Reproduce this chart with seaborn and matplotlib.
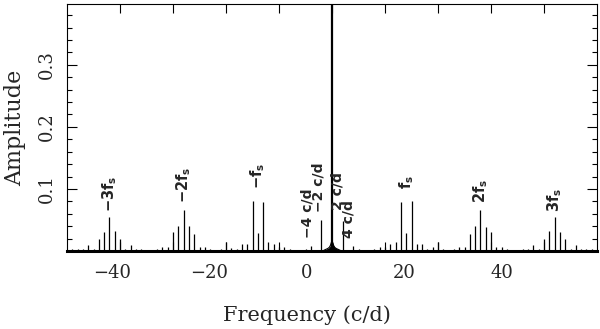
import numpy as np
import pandas as pd
import matplotlib
matplotlib.use("Agg")
import matplotlib.pyplot as plt
import seaborn as sns

# Spectral window: stick amplitudes at integer frequencies (c/d)
freq = list(range(-49, 50))
amp = [
    # -49 .. -40
    0.004, 0.004, 0.004, 0.0097, 0.003, 0.020, 0.030, 0.054, 0.033, 0.020,
    # -39 .. -30
    0.003, 0.0097, 0.004, 0.003, 0.002, 0.002, 0.003, 0.007, 0.006, 0.031,
    # -29 .. -20
    0.040, 0.066, 0.040, 0.027, 0.007, 0.006, 0.004, 0.002, 0.003, 0.015,
    # -19 .. -10
    0.005, 0.004, 0.011, 0.012, 0.081, 0.0285, 0.079, 0.0145, 0.011, 0.006,
    # -9 .. -1
    0.006, 0.004, 0.002, 0.002, 0.003, 0.008, 0.002, 0.050, 0.003,
    # 0 (main peak, clipped at the top)
    1.0,
    # 1 .. 9
    0.003, 0.049, 0.002, 0.008, 0.003, 0.002, 0.002, 0.004, 0.006,
    # 10 .. 19
    0.007, 0.011, 0.014, 0.0785, 0.0285, 0.081, 0.012, 0.011, 0.004, 0.006,
    # 20 .. 29
    0.0145, 0.003, 0.002, 0.004, 0.006, 0.007, 0.027, 0.040, 0.066, 0.039,
    # 30 .. 39
    0.031, 0.006, 0.007, 0.003, 0.002, 0.002, 0.003, 0.004, 0.0097, 0.003,
    # 40 .. 49
    0.020, 0.033, 0.054, 0.030, 0.020, 0.003, 0.0097, 0.004, 0.004, 0.004,
]

# broad base around the central peak
hump_freq = [-1.8, -1.2, -0.8, -0.5, -0.3, -0.15, 0.0, 0.15, 0.3, 0.5, 0.8, 1.2, 1.8]
hump_amp = [0.0, 0.0025, 0.004, 0.006, 0.009, 0.013, 0.017, 0.013, 0.009, 0.006, 0.004, 0.0025, 0.0]

# annotations: text, frequency, amplitude of the text's lower end
ann_text = [r"$\mathbf{-3f_s}$", r"$\mathbf{-2f_s}$", r"$\mathbf{-f_s}$",
            r"$\mathbf{f_s}$", r"$\mathbf{2f_s}$", r"$\mathbf{3f_s}$"]
ann_x = [-42, -28, -14, 14, 28, 42]
ann_y = [0.063, 0.078, 0.100, 0.100, 0.077, 0.063]

cd_text = ["\u22124 c/d", "\u22122 c/d", "2 c/d", "4 c/d"]
cd_x = [-4.7, -2.6, 1.1, 3.2]
cd_y = [0.021, 0.063, 0.066, 0.021]

xtick_labels = [-40, -20, 0, 20, 40]
yticks = [0.1, 0.2, 0.3]

df = pd.DataFrame({"freq": freq, "amp": amp})
hump = pd.DataFrame({"freq": hump_freq, "amp": hump_amp})

sns.set_theme(style="ticks")
plt.rcParams["font.family"] = ["DejaVu Serif"]
plt.rcParams["mathtext.fontset"] = "dejavusans"

fig = plt.figure(figsize=(6, 3.29), dpi=100)
ax = fig.add_axes([67 / 600, 1 - 251 / 329, 530 / 600, 247 / 329])

side = df[df["freq"] != 0]
main = df[df["freq"] == 0]
ax.vlines(side["freq"], 0, side["amp"], color="black", lw=0.9)
ax.vlines(main["freq"], 0, main["amp"], color="black", lw=1.6)
sns.lineplot(data=hump, x="freq", y="amp", color="black", lw=0.8, ax=ax)
ax.fill_between(hump["freq"], 0, hump["amp"], color="black", lw=0)

for t, x, y in zip(ann_text, ann_x, ann_y):
    ax.text(x, y, t, rotation=90, ha="center", va="bottom", fontsize=10.5,
            family=["DejaVu Sans"])
for t, x, y in zip(cd_text, cd_x, cd_y):
    ax.text(x, y, t, rotation=90, ha="center", va="bottom", fontsize=10,
            family=["DejaVu Sans"], weight="bold")

ax.set_xlim(-50, 50)
ax.set_ylim(0, 0.398)

# x ticks every 10 on both edges, no labels on the main axis
ax.set_xticks(np.arange(-40, 41, 10))
ax.tick_params(axis="x", which="both", direction="in", top=True, bottom=True,
               length=6.5, width=0.8, labelbottom=False, color="black")
ax.set_yticks(yticks)
ax.set_yticks(np.arange(0.02, 0.40, 0.02), minor=True)
ax.tick_params(axis="y", which="major", direction="in", left=True, right=True,
               length=7, width=0.8, labelsize=13, pad=8, labelrotation=90, color="black")
ax.tick_params(axis="y", which="minor", direction="in", left=True, right=True,
               length=3.5, width=0.8, color="black")
ax.set_yticklabels([f"{v:.1f}" for v in yticks])
for lbl in ax.get_yticklabels():
    lbl.set_va("center")

# the frequency labels of the original sit on a slightly compressed scale
sec = ax.secondary_xaxis("bottom", functions=(lambda x: (x + 4.72) / 0.92,
                                              lambda v: 0.92 * v - 4.72))
sec.set_xticks(xtick_labels)
sec.set_xticklabels([str(v).replace("-", "\u2212") for v in xtick_labels])
sec.tick_params(length=0, labelsize=13, pad=9)
sec.spines["bottom"].set_visible(False)

for s in ["top", "left", "right"]:
    ax.spines[s].set_linewidth(0.8)
    ax.spines[s].set_color("black")
ax.spines["bottom"].set_linewidth(2.2)
ax.spines["bottom"].set_color("black")

ax.set_xlabel("Frequency (c/d)", fontsize=15)
ax.xaxis.set_label_coords(0.453, -0.219)
ax.set_ylabel("Amplitude", fontsize=16)
ax.yaxis.set_label_coords(-0.078, 0.5)

fig.savefig("out.png", dpi=100)
